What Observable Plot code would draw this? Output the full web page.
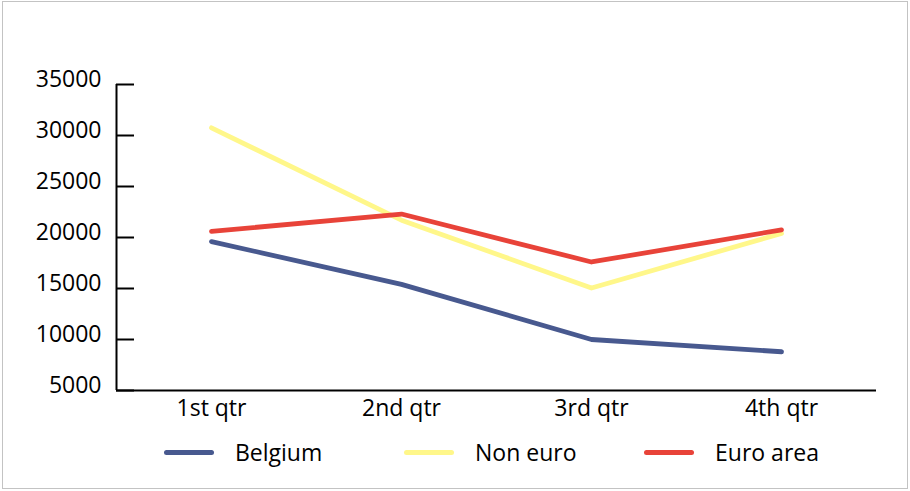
<!DOCTYPE html>
<html>
<head>
<meta charset="utf-8">
<script src="https://cdn.jsdelivr.net/npm/d3@7"></script>
<script src="https://cdn.jsdelivr.net/npm/@observablehq/plot@0.6"></script>
<style>
  html, body { margin: 0; padding: 0; background: #fff; }
  #chart { position: relative; width: 910px; height: 491px; overflow: hidden; font-family: "Open Sans", sans-serif; }
  #border { position: absolute; left: 2px; top: 1px; width: 904px; height: 486px; border: 1.5px solid #c3c3c3; pointer-events: none; }
  #plot svg { display: block; }
  #legend { display: flex; align-items: center; height: 30px; margin-top: 12px; padding-left: 164px; }
  .item { display: flex; align-items: center; width: 240px; }
  .swatch { width: 50px; height: 5px; border-radius: 3px; margin-right: 21px; }
  .label { font-size: 23px; color: #000; line-height: 30px; }
</style>
</head>
<body>
<div id="chart">
  <div id="plot"></div>
  <div id="legend"></div>
  <div id="border"></div>
</div>
<script>
// Quarterly figures for three series
const quarters = ["1st qtr", "2nd qtr", "3rd qtr", "4th qtr"];
const belgium = [19600, 15400, 10000, 8800];
const nonEuro = [30750, 21700, 15050, 20400];
const euroArea = [20600, 22300, 17600, 20750];

const seriesNames = ["Belgium", "Non euro", "Euro area"];
const seriesColors = ["#48598f", "#fff78a", "#e84339"];
const yTicks = [5000, 10000, 15000, 20000, 25000, 30000, 35000];

const rows = [belgium, nonEuro, euroArea].flatMap((vals, s) =>
  vals.map((v, i) => ({series: seriesNames[s], q: i, value: v}))
);

const qIndex = d3.range(quarters.length);

const chart = Plot.plot({
  width: 910,
  height: 425,
  marginLeft: 116,
  marginRight: 34,
  marginTop: 84,
  marginBottom: 35,
  style: {fontFamily: "'Open Sans', sans-serif", fontSize: "23px", color: "#000", background: "transparent", overflow: "visible"},
  x: {domain: [-0.5, quarters.length - 0.5]},
  y: {domain: [5000, 35000]},
  color: {domain: seriesNames, range: seriesColors},
  marks: [
    Plot.axisX({ticks: qIndex, tickFormat: i => quarters[i], tickSize: 0, tickPadding: 9, label: null}),
    Plot.axisY({ticks: yTicks, tickFormat: d3.format("d"), tickSize: 0, tickPadding: 15, dy: -5, label: null}),
    Plot.axisY({ticks: yTicks, tickFormat: () => "", tickSize: -18, strokeWidth: 2, label: null}),
    Plot.ruleX([-0.5], {y1: 5000, y2: 35000, stroke: "#000", strokeWidth: 2}),
    Plot.ruleY([5000], {stroke: "#000", strokeWidth: 2}),
    Plot.line(rows, {
      x: "q", y: "value", z: "series", stroke: "series",
      strokeWidth: 4.8, strokeLinecap: "round", strokeLinejoin: "round"
    })
  ]
});
document.getElementById("plot").append(chart);

// Legend below the plot
const legend = d3.select("#legend");
seriesNames.forEach((name, i) => {
  const item = legend.append("div").attr("class", "item");
  item.append("div").attr("class", "swatch").style("background", seriesColors[i]);
  item.append("div").attr("class", "label").text(name);
});
</script>
</body>
</html>
